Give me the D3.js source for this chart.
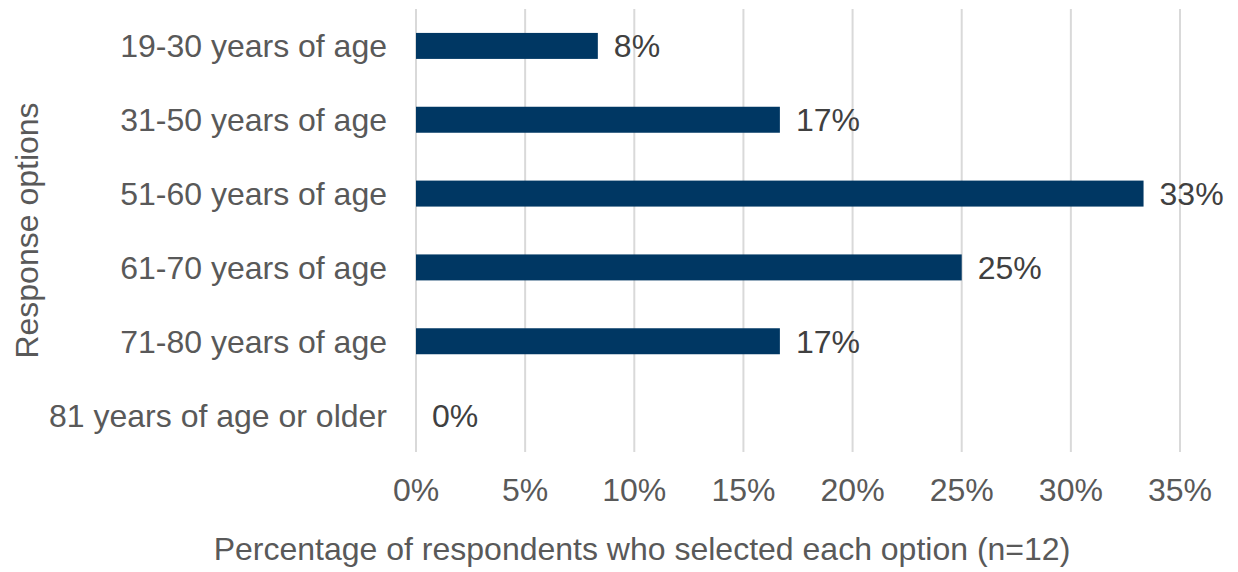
<!DOCTYPE html>
<html lang="en">
<head>
  <meta charset="utf-8">
  <title>Age of respondents</title>
  <style>
    html,body{margin:0;background:#fff}
    svg{display:block}
    .grid line{stroke:#d9d9d9;stroke-width:2px}
    .cat-label,.tick-label,.axis-title{font-family:"Liberation Sans",Arial,sans-serif;font-size:32px;fill:#595959}
    .val-label{font-family:"Liberation Sans",Arial,sans-serif;font-size:32px;fill:#404040}
  </style>
  <script src="https://d3js.org/d3.v7.min.js"></script>
</head>
<body>
  <svg id="chart" width="1238" height="572"></svg>
  <script>
    // data (n=12 respondents)
    const categories=['19-30 years of age','31-50 years of age','51-60 years of age','61-70 years of age','71-80 years of age','81 years of age or older'];
    const values=[8.33,16.67,33.33,25,16.67,0];
    const valueLabels=['8%','17%','33%','25%','17%','0%'];
    const xTicks=[0,5,10,15,20,25,30,35];

    const svg=d3.select('#chart');
    const m={left:416,right:1180,top:9,bottom:452};

    const x=d3.scaleLinear().domain([0,35]).range([m.left,m.right]);
    const y=d3.scaleBand().domain(categories).range([m.top,m.bottom]).paddingInner(0.648).paddingOuter(0.324);

    // vertical gridlines
    svg.append('g').attr('class','grid').selectAll('line').data(xTicks).enter().append('line')
       .attr('x1',d=>x(d)).attr('x2',d=>x(d)).attr('y1',m.top).attr('y2',m.bottom);

    // tick labels
    svg.append('g').selectAll('text').data(xTicks).enter().append('text')
       .attr('class','tick-label').attr('x',d=>x(d)).attr('y',501).attr('text-anchor','middle')
       .text(d=>d+'%');

    // bars
    svg.append('g').selectAll('rect').data(values).enter().append('rect')
       .attr('x',x(0)).attr('y',(d,i)=>y(categories[i]))
       .attr('width',d=>x(d)-x(0)).attr('height',y.bandwidth())
       .attr('fill','#003763');

    // value labels
    svg.append('g').selectAll('text').data(values).enter().append('text')
       .attr('class','val-label')
       .attr('x',d=>x(d)+16)
       .attr('y',(d,i)=>y(categories[i])+y.bandwidth()/2)
       .attr('dy','0.36em')
       .text((d,i)=>valueLabels[i]);

    // category labels
    svg.append('g').selectAll('text').data(categories).enter().append('text')
       .attr('class','cat-label').attr('x',387)
       .attr('y',d=>y(d)+y.bandwidth()/2).attr('dy','0.36em').attr('text-anchor','end')
       .text(d=>d);

    // axis titles
    svg.append('text').attr('class','axis-title').attr('x',642).attr('y',560).attr('text-anchor','middle')
       .text('Percentage of respondents who selected each option (n=12)');
    svg.append('text').attr('class','axis-title').attr('text-anchor','middle')
       .attr('transform','translate(38,'+((m.top+m.bottom)/2)+') rotate(-90)')
       .text('Response options');
  </script>
</body>
</html>
